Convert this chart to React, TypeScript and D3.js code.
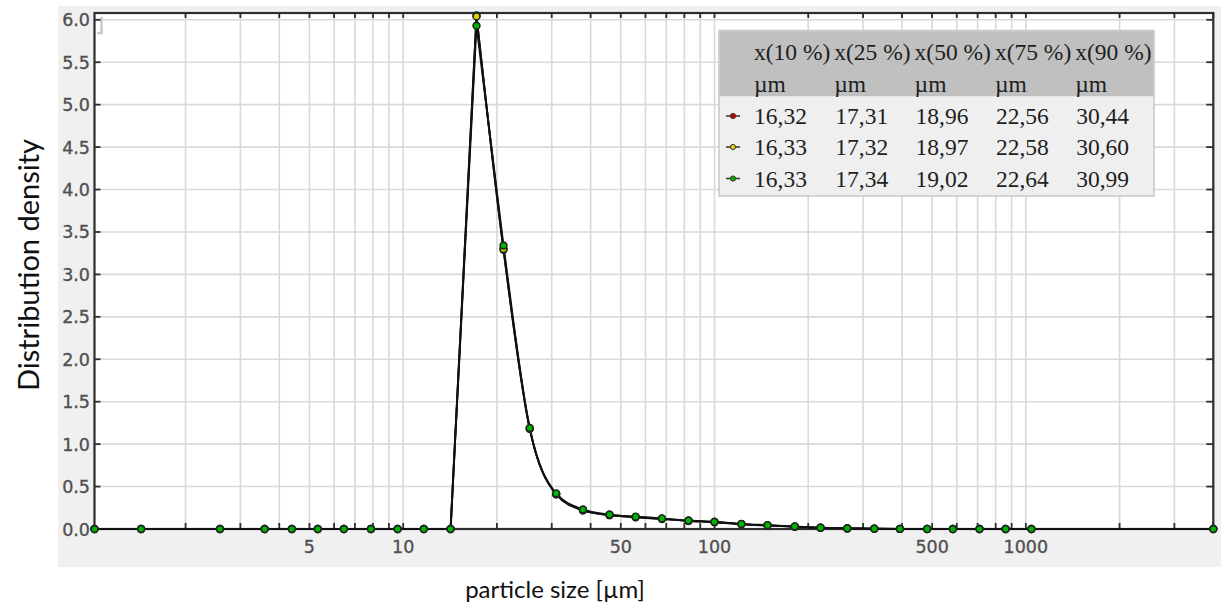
import React from "react";
import * as d3 from "d3";

// particle size classes [µm] and measured density for three runs
const sizes = [1.02, 1.44, 2.58, 3.59, 4.39, 5.32, 6.45, 7.88, 9.6, 11.65, 14.2, 17.2, 21.0, 25.5, 31.0, 37.8, 46.0, 55.8, 67.8, 82.5, 100, 122, 148, 181, 219, 267, 326, 394, 482, 583, 710, 861, 1042, 4000];
const densityRed = [0, 0, 0, 0, 0, 0, 0, 0, 0, 0, 0, 6.05, 3.29, 1.18, 0.41, 0.22, 0.163, 0.138, 0.118, 0.095, 0.08, 0.056, 0.041, 0.027, 0.014, 0.007, 0.003, 0.001, 0, 0, 0, 0, 0, 0];
const densityYellow = [0, 0, 0, 0, 0, 0, 0, 0, 0, 0, 0, 6.04, 3.3, 1.18, 0.41, 0.22, 0.165, 0.14, 0.12, 0.097, 0.082, 0.058, 0.043, 0.028, 0.015, 0.007, 0.003, 0.001, 0.0005, 0, 0, 0, 0, 0];
const densityGreen = [0, 0, 0, 0, 0, 0, 0, 0, 0, 0, 0, 5.93, 3.34, 1.19, 0.42, 0.23, 0.17, 0.145, 0.125, 0.1, 0.085, 0.06, 0.045, 0.03, 0.016, 0.008, 0.004, 0.002, 0.001, 0, 0, 0, 0, 0];

const yTicks = [0, 0.5, 1, 1.5, 2, 2.5, 3, 3.5, 4, 4.5, 5, 5.5, 6];
const xTickLabels = [5, 10, 50, 100, 500, 1000];

const pctHeaders = ["x(10 %)", "x(25 %)", "x(50 %)", "x(75 %)", "x(90 %)"];
const pctRed = ["16,32", "17,31", "18,96", "22,56", "30,44"];
const pctYellow = ["16,33", "17,32", "18,97", "22,58", "30,60"];
const pctGreen = ["16,33", "17,34", "19,02", "22,64", "30,99"];

const series = [
  { name: "red", color: "#d40000", values: densityRed, pct: pctRed },
  { name: "yellow", color: "#e6d200", values: densityYellow, pct: pctYellow },
  { name: "green", color: "#00b400", values: densityGreen, pct: pctGreen },
];

const W = 1221;
const H = 610;
const plot = { left: 94.5, right: 1213.3, top: 13, bottom: 529 };

const App = () => {
  const x = d3.scaleLog().domain([1.02, 4000]).range([plot.left, plot.right]);
  const y = d3.scaleLinear().domain([0, 6.08]).range([plot.bottom, plot.top]);
  const xGrid = x.ticks().filter((t) => t > 1.02 && t <= 4000);
  const fmt = d3.format(".1f");

  const lineUp = d3
    .line<[number, number]>()
    .x((d) => x(d[0]))
    .y((d) => y(d[1]))
    .curve(d3.curveLinear);
  const lineDown = d3
    .line<[number, number]>()
    .x((d) => x(d[0]))
    .y((d) => y(d[1]))
    .curve(d3.curveMonotoneX);

  const tickFont = "'DejaVu Sans', Verdana, sans-serif";
  const tableFont = "'Liberation Serif', 'Times New Roman', serif";
  const titleFont = "Lato, 'Open Sans', sans-serif";
  const colX = (i: number) => 754 + i * 80.3;
  const rowY = [124, 155, 186.5];

  return (
    <svg
      width={W}
      height={H}
      style={{ position: "absolute", left: 0, top: 0, background: "#fff" }}
    >
      <rect x={58} y={6} width={W - 58} height={561} fill="#f0f0f0" />
      <rect
        x={plot.left}
        y={plot.top}
        width={plot.right - plot.left}
        height={plot.bottom - plot.top}
        fill="#fff"
      />

      {/* grid */}
      <g stroke="#d9d9d9" strokeWidth={1.6}>
        {xGrid.map((t) => (
          <line key={"gx" + t} x1={x(t)} x2={x(t)} y1={plot.top} y2={plot.bottom} />
        ))}
        {yTicks
          .filter((t) => t > 0)
          .map((t) => (
            <line key={"gy" + t} x1={plot.left} x2={plot.right} y1={y(t)} y2={y(t)} />
          ))}
      </g>

      {/* small grip mark top-left */}
      <path d="M101.5,17 V33 H97" fill="none" stroke="#c8c8c8" strokeWidth={2.5} />

      {/* frame */}
      <rect
        x={plot.left}
        y={plot.top}
        width={plot.right - plot.left}
        height={plot.bottom - plot.top}
        fill="none"
        stroke="#2e2e2e"
        strokeWidth={2.2}
      />

      {/* ticks */}
      <g stroke="#2e2e2e" strokeWidth={1.8}>
        {xGrid.map((t) => (
          <g key={"tx" + t}>
            <line x1={x(t)} x2={x(t)} y1={plot.bottom} y2={plot.bottom - 6} />
            <line x1={x(t)} x2={x(t)} y1={plot.top} y2={plot.top + 5} />
          </g>
        ))}
        {yTicks.map((t) => (
          <g key={"ty" + t}>
            <line x1={plot.left} x2={plot.left + 6} y1={y(t)} y2={y(t)} />
            <line x1={plot.right} x2={plot.right - 7} y1={y(t)} y2={y(t)} />
          </g>
        ))}
      </g>

      {/* tick labels */}
      <g fontFamily={tickFont} fontSize={17.5} fill="#505050" stroke="#505050" strokeWidth={0.35}>
        {yTicks.map((t) => (
          <text key={"ly" + t} x={90} y={y(t) + 6.5} textAnchor="end">
            {fmt(t)}
          </text>
        ))}
        {xTickLabels.map((t) => (
          <text key={"lx" + t} x={x(t)} y={553} textAnchor="middle">
            {t}
          </text>
        ))}
      </g>

      {/* curves */}
      {series.map((s) => {
        const pts: [number, number][] = s.values.map((v, i) => [sizes[i], v]);
        const pk = d3.maxIndex(s.values);
        return (
          <g key={"c" + s.name} fill="none" stroke="#111" strokeWidth={1.9}>
            <path d={lineUp(pts.slice(0, pk + 1)) || ""} />
            <path d={lineDown(pts.slice(pk)) || ""} />
          </g>
        );
      })}

      {/* markers */}
      {series.map((s) => (
        <g key={"m" + s.name} fill={s.color} stroke="#1c2a1c" strokeWidth={1.6}>
          {s.values.map((v, i) => (
            <circle key={i} cx={x(sizes[i])} cy={y(v)} r={3.4} />
          ))}
        </g>
      ))}

      {/* percentile table */}
      <g>
        <rect x={719} y={30.5} width={435} height={165.5} fill="#efefef" stroke="#c8c8c8" strokeWidth={1.5} />
        <rect x={719.7} y={31.2} width={433.6} height={65} fill="#c0c0c0" />
        <g fontFamily={tableFont} fontSize={23.5} fill="#1e1e1e">
          {pctHeaders.map((h, i) => (
            <text key={"h" + i} x={colX(i)} y={60}>
              {h}
            </text>
          ))}
          {pctHeaders.map((h, i) => (
            <text key={"u" + i} x={colX(i)} y={91.5}>
              µm
            </text>
          ))}
          {series.map((s, r) =>
            s.pct.map((v, i) => (
              <text key={s.name + i} x={colX(i) + (i === 0 ? 0 : 1)} y={rowY[r]}>
                {v}
              </text>
            ))
          )}
        </g>
        {series.map((s, r) => (
          <g key={"lg" + s.name}>
            <line x1={726} x2={740} y1={rowY[r] - 8} y2={rowY[r] - 8} stroke="#333" strokeWidth={1.5} />
            <circle cx={733} cy={rowY[r] - 8} r={2.6} fill={s.color} stroke="#333" strokeWidth={1} />
          </g>
        ))}
      </g>

      {/* axis titles */}
      <text x={555} y={598} textAnchor="middle" fontFamily={titleFont} fontSize={24} fill="#111">
        particle size [µm]
      </text>
      <text
        transform="translate(39,265) rotate(-90)"
        textAnchor="middle"
        fontFamily={titleFont}
        fontSize={29}
        fill="#111"
      >
        Distribution density
      </text>
    </svg>
  );
};

export default App;
